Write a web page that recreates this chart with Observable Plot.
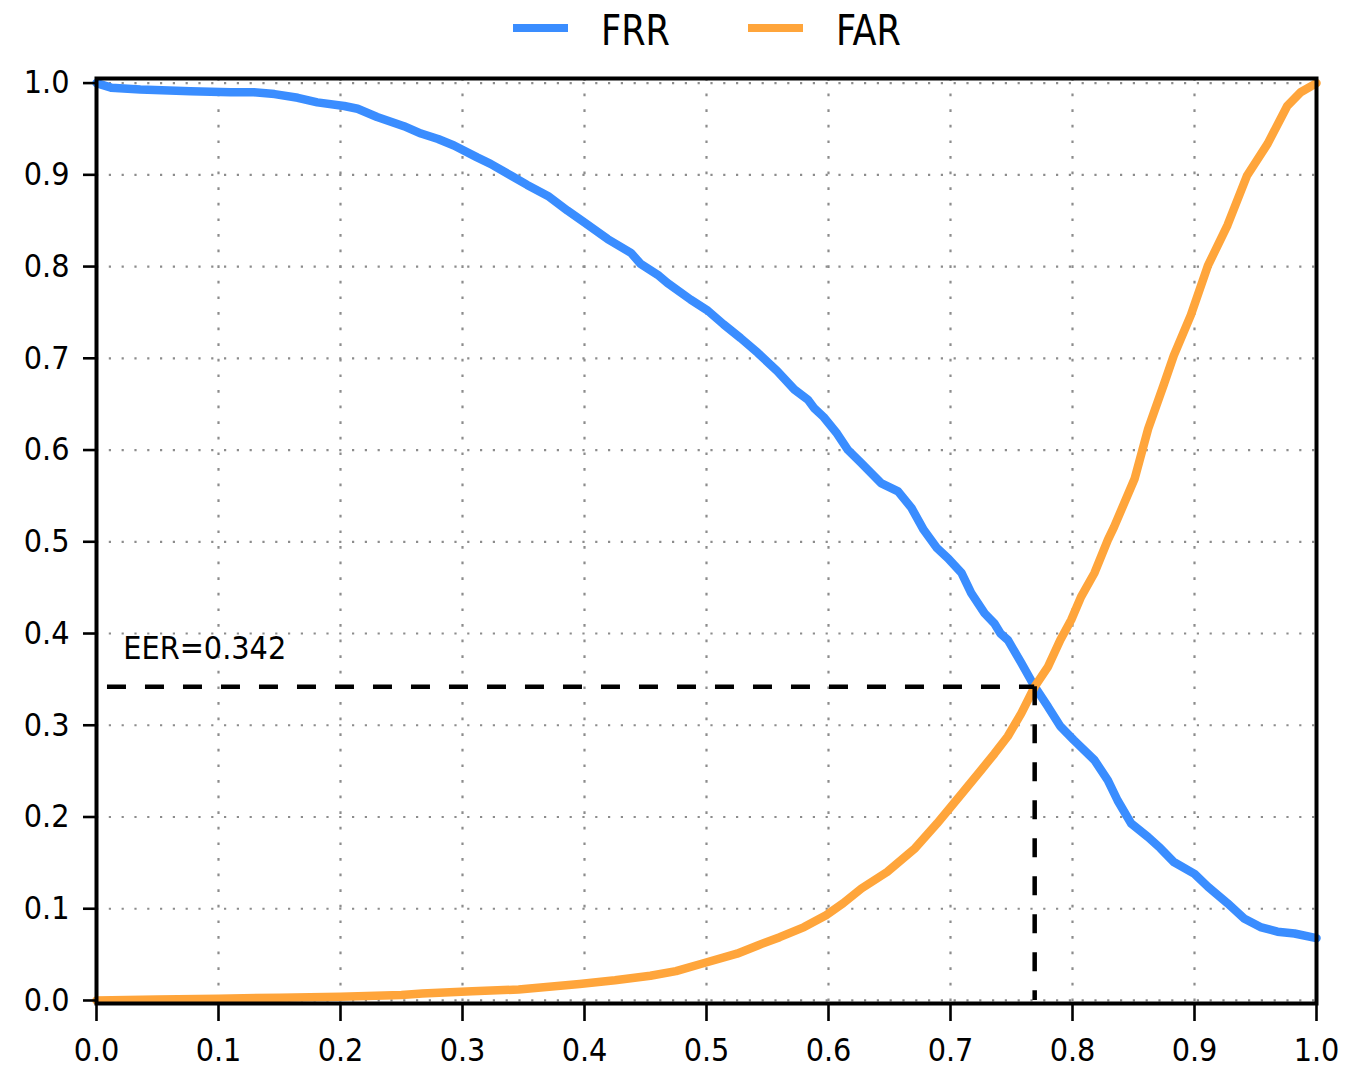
<!DOCTYPE html>
<html>
<head>
<meta charset="utf-8">
<script src="https://cdn.jsdelivr.net/npm/d3@7"></script>
<script src="https://cdn.jsdelivr.net/npm/@observablehq/plot@0.6"></script>
<style>
  body { margin: 0; background: #fff; }
  #legend { position: relative; width: 1345px; height: 60px; font-family: "DejaVu Sans Condensed", "DejaVu Sans", sans-serif; color: #000; }
  #legend .sw { position: absolute; top: 24px; width: 55px; height: 8px; }
  #legend .lab { position: absolute; top: 12px; font-size: 39px; line-height: 39px; transform: scaleY(1.08); transform-origin: 0 33px; white-space: nowrap; }
</style>
</head>
<body>
<div id="legend"></div>
<div id="chart"></div>
<script>
// ---- data ----
const seriesNames = ["FRR", "FAR"];

const frrThreshold = [0.000, 0.012, 0.036, 0.077, 0.110, 0.129, 0.146, 0.165, 0.181, 0.203, 0.214, 0.230, 0.252, 0.266, 0.280, 0.293, 0.312, 0.323, 0.340, 0.353, 0.370, 0.386, 0.400, 0.419, 0.438, 0.446, 0.460, 0.468, 0.487, 0.501, 0.514, 0.528, 0.542, 0.558, 0.572, 0.583, 0.588, 0.596, 0.607, 0.616, 0.626, 0.643, 0.657, 0.668, 0.678, 0.689, 0.698, 0.709, 0.717, 0.728, 0.736, 0.741, 0.747, 0.758, 0.769, 0.780, 0.790, 0.801, 0.818, 0.829, 0.837, 0.848, 0.862, 0.872, 0.883, 0.900, 0.911, 0.927, 0.941, 0.954, 0.968, 0.982, 1.000];
const frrRate      = [1.000, 0.995, 0.993, 0.991, 0.990, 0.990, 0.988, 0.984, 0.979, 0.975, 0.972, 0.963, 0.953, 0.945, 0.939, 0.932, 0.919, 0.912, 0.899, 0.889, 0.877, 0.861, 0.848, 0.830, 0.815, 0.803, 0.791, 0.782, 0.764, 0.752, 0.737, 0.722, 0.706, 0.686, 0.666, 0.655, 0.646, 0.636, 0.618, 0.600, 0.587, 0.564, 0.555, 0.537, 0.513, 0.493, 0.482, 0.466, 0.444, 0.422, 0.411, 0.400, 0.393, 0.368, 0.342, 0.320, 0.299, 0.284, 0.262, 0.240, 0.218, 0.193, 0.178, 0.166, 0.151, 0.138, 0.124, 0.106, 0.089, 0.080, 0.075, 0.073, 0.068];

const farThreshold = [0.000, 0.050, 0.100, 0.150, 0.200, 0.250, 0.267, 0.308, 0.346, 0.396, 0.425, 0.454, 0.475, 0.496, 0.525, 0.542, 0.560, 0.580, 0.598, 0.612, 0.627, 0.648, 0.671, 0.689, 0.709, 0.725, 0.736, 0.747, 0.758, 0.769, 0.780, 0.790, 0.799, 0.807, 0.818, 0.829, 0.834, 0.851, 0.862, 0.875, 0.883, 0.897, 0.911, 0.927, 0.943, 0.960, 0.976, 0.987, 1.000];
const farRate      = [0.000, 0.001, 0.002, 0.003, 0.004, 0.006, 0.0075, 0.010, 0.012, 0.018, 0.022, 0.027, 0.032, 0.040, 0.051, 0.060, 0.069, 0.080, 0.093, 0.106, 0.122, 0.140, 0.166, 0.193, 0.225, 0.251, 0.269, 0.288, 0.313, 0.342, 0.364, 0.393, 0.415, 0.440, 0.466, 0.502, 0.516, 0.569, 0.623, 0.672, 0.703, 0.747, 0.801, 0.845, 0.899, 0.934, 0.975, 0.990, 1.000];

const xTicks = [0.0, 0.1, 0.2, 0.3, 0.4, 0.5, 0.6, 0.7, 0.8, 0.9, 1.0];
const yTicks = [0.0, 0.1, 0.2, 0.3, 0.4, 0.5, 0.6, 0.7, 0.8, 0.9, 1.0];

const eerValue = 0.342;
const eerThreshold = 0.769;
const eerLabel = ["EER=0.342"];

// ---- styling ----
const colors = { FRR: "#3a8dff", FAR: "#ffa53b" };
const font = "'DejaVu Sans Condensed', 'DejaVu Sans', sans-serif";

// legend
const legend = document.getElementById("legend");
const legendPos = [{sw: 513, lab: 601}, {sw: 748, lab: 836}];
seriesNames.forEach((name, i) => {
  const sw = document.createElement("div");
  sw.className = "sw";
  sw.style.left = legendPos[i].sw + "px";
  sw.style.background = colors[name];
  legend.appendChild(sw);
  const lab = document.createElement("span");
  lab.className = "lab";
  lab.style.left = legendPos[i].lab + "px";
  lab.textContent = name;
  legend.appendChild(lab);
});

const frr = frrThreshold.map((t, i) => ({t, r: frrRate[i]}));
const far = farThreshold.map((t, i) => ({t, r: farRate[i]}));
const fmt = d3.format(".1f");

const chart = Plot.plot({
  width: 1345,
  height: 1010,
  marginTop: 18,
  marginBottom: 67,
  marginLeft: 96,
  marginRight: 29,
  x: {domain: [0, 1]},
  y: {domain: [-0.0033, 1.005]},
  style: {fontFamily: font, fontSize: "32px", color: "black", background: "white", overflow: "visible"},
  marks: [
    Plot.gridX(xTicks, {stroke: "#8c8c8c", strokeOpacity: 1, strokeWidth: 2.2, strokeDasharray: "2.7,12.9"}),
    Plot.gridY(yTicks, {stroke: "#8c8c8c", strokeOpacity: 1, strokeWidth: 2.2, strokeDasharray: "2.2,10.6"}),
    Plot.line(frr, {x: "t", y: "r", stroke: colors.FRR, strokeWidth: 8.5, strokeLinejoin: "round", strokeLinecap: "round"}),
    Plot.line(far, {x: "t", y: "r", stroke: colors.FAR, strokeWidth: 8.5, strokeLinejoin: "round", strokeLinecap: "round"}),
    Plot.ruleY([eerValue], {x1: 0.009, x2: eerThreshold, stroke: "black", strokeWidth: 4.5, strokeDasharray: "19,19"}),
    Plot.ruleX([eerThreshold], {y1: eerValue, y2: 0, stroke: "black", strokeWidth: 4.5, strokeDasharray: "19,19"}),
    Plot.text(eerLabel, {x: 0.022, y: 0.372, text: d => d, textAnchor: "start", lineAnchor: "bottom", fontSize: 32, fill: "black"}),
    Plot.frame({stroke: "black", strokeWidth: 4}),
    Plot.axisX(xTicks, {tickSize: 18, tickPadding: 17, tickFormat: fmt, fontSize: 32, strokeWidth: 2.6, label: null}),
    Plot.axisY(yTicks, {tickSize: 13, tickPadding: 14, tickFormat: fmt, fontSize: 32, strokeWidth: 2.6, label: null})
  ]
});
document.getElementById("chart").appendChild(chart);
</script>
</body>
</html>
